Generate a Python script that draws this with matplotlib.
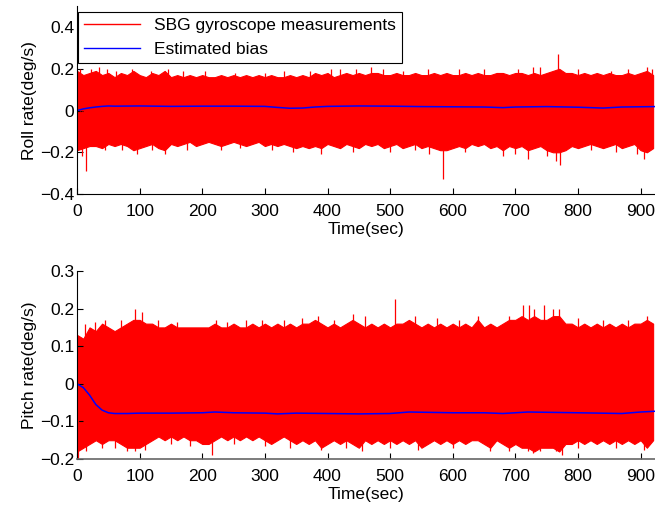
import numpy as np
import matplotlib
matplotlib.use("Agg")
import matplotlib.pyplot as plt
from matplotlib.lines import Line2D

plt.rcParams['font.family'] = ['Liberation Sans', 'DejaVu Sans']

# envelope of the raw gyro signal, read every 10 s
t_env = np.arange(0, 930, 10)

roll_up = [0.19, 0.17, 0.18, 0.19, 0.17, 0.18, 0.16, 0.18, 0.17, 0.19,
           0.17, 0.16, 0.18, 0.17, 0.19, 0.16, 0.17, 0.16, 0.17, 0.16,
           0.17, 0.16, 0.16, 0.17, 0.16, 0.17, 0.16, 0.17, 0.16, 0.17,
           0.16, 0.17, 0.16, 0.16, 0.17, 0.16, 0.17, 0.16, 0.18, 0.17,
           0.18, 0.16, 0.17, 0.18, 0.17, 0.18, 0.17, 0.18, 0.18, 0.17,
           0.17, 0.18, 0.17, 0.17, 0.18, 0.17, 0.17, 0.18, 0.17, 0.18,
           0.17, 0.17, 0.18, 0.17, 0.18, 0.17, 0.17, 0.18, 0.18, 0.17,
           0.18, 0.18, 0.17, 0.18, 0.17, 0.18, 0.19, 0.20, 0.18, 0.18,
           0.17, 0.18, 0.17, 0.18, 0.17, 0.18, 0.17, 0.17, 0.18, 0.17,
           0.18, 0.19, 0.17]
roll_lo = [-0.19, -0.18, -0.17, -0.17, -0.18, -0.16, -0.17, -0.16, -0.17, -0.19,
           -0.18, -0.17, -0.16, -0.18, -0.19, -0.16, -0.17, -0.16, -0.15, -0.17,
           -0.16, -0.15, -0.16, -0.17, -0.16, -0.15, -0.16, -0.17, -0.16, -0.15,
           -0.17, -0.16, -0.17, -0.16, -0.17, -0.18, -0.17, -0.18, -0.17, -0.18,
           -0.16, -0.17, -0.18, -0.16, -0.17, -0.18, -0.16, -0.17, -0.16, -0.18,
           -0.17, -0.16, -0.18, -0.17, -0.16, -0.18, -0.17, -0.18, -0.19, -0.19,
           -0.18, -0.17, -0.18, -0.16, -0.17, -0.16, -0.18, -0.17, -0.19, -0.17,
           -0.18, -0.17, -0.19, -0.18, -0.17, -0.19, -0.20, -0.20, -0.19, -0.17,
           -0.18, -0.17, -0.16, -0.17, -0.18, -0.17, -0.16, -0.18, -0.17, -0.16,
           -0.19, -0.20, -0.18]

pitch_up = [0.13, 0.12, 0.15, 0.14, 0.16, 0.15, 0.14, 0.15, 0.16, 0.17,
            0.17, 0.16, 0.16, 0.15, 0.15, 0.16, 0.15, 0.15, 0.15, 0.15,
            0.15, 0.15, 0.16, 0.15, 0.15, 0.16, 0.15, 0.15, 0.16, 0.15,
            0.16, 0.15, 0.16, 0.15, 0.16, 0.15, 0.16, 0.16, 0.17, 0.16,
            0.15, 0.16, 0.15, 0.16, 0.17, 0.16, 0.15, 0.16, 0.15, 0.16,
            0.15, 0.16, 0.16, 0.17, 0.16, 0.15, 0.16, 0.15, 0.16, 0.15,
            0.16, 0.15, 0.16, 0.15, 0.17, 0.15, 0.16, 0.15, 0.16, 0.17,
            0.17, 0.18, 0.17, 0.18, 0.17, 0.17, 0.18, 0.18, 0.16, 0.16,
            0.15, 0.16, 0.15, 0.16, 0.15, 0.16, 0.15, 0.16, 0.15, 0.16,
            0.16, 0.17, 0.16]
pitch_lo = [-0.18, -0.17, -0.16, -0.15, -0.16, -0.15, -0.15, -0.16, -0.17, -0.17,
            -0.17, -0.16, -0.15, -0.14, -0.15, -0.14, -0.15, -0.14, -0.15, -0.15,
            -0.16, -0.16, -0.15, -0.14, -0.15, -0.14, -0.15, -0.14, -0.15, -0.14,
            -0.15, -0.16, -0.15, -0.14, -0.15, -0.16, -0.15, -0.16, -0.15, -0.17,
            -0.16, -0.15, -0.16, -0.15, -0.16, -0.17, -0.15, -0.16, -0.15, -0.16,
            -0.15, -0.16, -0.15, -0.16, -0.15, -0.17, -0.16, -0.15, -0.16, -0.15,
            -0.16, -0.15, -0.16, -0.15, -0.15, -0.16, -0.17, -0.15, -0.16, -0.17,
            -0.16, -0.17, -0.17, -0.18, -0.17, -0.17, -0.17, -0.18, -0.16, -0.16,
            -0.15, -0.16, -0.15, -0.16, -0.15, -0.16, -0.15, -0.16, -0.15, -0.16,
            -0.15, -0.17, -0.15]

# isolated spikes (time, value)
roll_spike_t = [35, 145, 405, 445, 740, 768, 910, 15, 95, 140, 585, 680, 765, 772, 905,
                5, 22, 48, 62, 88, 118, 170, 205, 252, 300, 330, 372, 420, 470, 488,
                520, 560, 610, 650, 705, 728, 800, 852, 880, 918,
                8, 45, 72, 120, 175, 230, 260, 312, 345, 390, 440, 500, 540, 562,
                620, 700, 720, 750, 820, 860, 895]
roll_spike_v = [0.21, 0.20, 0.20, 0.20, 0.21, 0.27, 0.21,
                -0.29, -0.21, -0.21, -0.33, -0.22, -0.24, -0.26, -0.23,
                0.20, 0.20, 0.20, 0.19, 0.20, 0.19, 0.19, 0.19, 0.18, 0.18, 0.19,
                0.19, 0.20, 0.21, 0.20, 0.19, 0.20, 0.20, 0.20, 0.20, 0.21, 0.20,
                0.19, 0.20, 0.20,
                -0.22, -0.19, -0.19, -0.19, -0.19, -0.19, -0.18, -0.19, -0.20,
                -0.21, -0.20, -0.20, -0.19, -0.21, -0.20, -0.21, -0.23, -0.22,
                -0.19, -0.20, -0.21]
pitch_spike_t = [92, 103, 508, 712, 722, 745, 770, 2, 92, 108, 215, 720, 728, 765,
                 12, 28, 45, 70, 130, 160, 222, 240, 270, 295, 330, 360, 385, 410,
                 440, 460, 540, 575, 610, 640, 690, 730, 760, 800, 840, 880, 910,
                 15, 40, 60, 80, 150, 180, 250, 300, 340, 390, 430, 455, 500, 545,
                 600, 660, 690, 740, 775, 800, 860, 905]
pitch_spike_v = [0.20, 0.19, 0.225, 0.21, 0.21, 0.21, 0.20,
                 -0.20, -0.18, -0.175, -0.19, -0.18, -0.185, -0.18,
                 0.16, 0.165, 0.17, 0.17, 0.17, 0.165, 0.17, 0.165, 0.17, 0.17,
                 0.17, 0.175, 0.18, 0.17, 0.185, 0.18, 0.18, 0.175, 0.17, 0.18,
                 0.18, 0.20, 0.20, 0.175, 0.17, 0.17, 0.18,
                 -0.18, -0.17, -0.17, -0.18, -0.16, -0.165, -0.16, -0.165, -0.17,
                 -0.175, -0.17, -0.18, -0.17, -0.175, -0.17, -0.18, -0.18, -0.18,
                 -0.19, -0.17, -0.17, -0.175]

# estimated bias
roll_bias_t = [0, 10, 20, 30, 40, 50, 60, 100, 150, 200, 250, 300, 320, 340, 360,
               380, 400, 450, 500, 550, 600, 650, 680, 700, 750, 800, 840, 870, 923]
roll_bias_v = [0.0, 0.008, 0.013, 0.017, 0.02, 0.022, 0.021, 0.022, 0.02, 0.021, 0.021,
               0.02, 0.015, 0.011, 0.012, 0.017, 0.02, 0.022, 0.021, 0.019, 0.018,
               0.017, 0.014, 0.017, 0.019, 0.016, 0.012, 0.017, 0.019]
pitch_bias_t = [0, 10, 20, 30, 40, 50, 60, 80, 100, 150, 200, 220, 250, 300, 320,
                350, 400, 450, 500, 530, 600, 650, 680, 720, 800, 870, 900, 923]
pitch_bias_v = [0.0, -0.01, -0.03, -0.055, -0.07, -0.077, -0.079, -0.079, -0.078,
                -0.078, -0.077, -0.075, -0.077, -0.078, -0.08, -0.078, -0.079, -0.08,
                -0.079, -0.075, -0.077, -0.077, -0.079, -0.075, -0.077, -0.079,
                -0.075, -0.073]

fig = plt.figure(figsize=(6.55, 5.09), dpi=100)
ax1 = fig.add_axes([0.1176, 0.6188, 0.8824, 0.369])
ax2 = fig.add_axes([0.1176, 0.0982, 0.8824, 0.3694])


def draw(ax, up, lo, sp_t, sp_v, bt, bv, ylim, yticks, ylabel):
    ax.fill_between(t_env, lo, up, color='red', lw=0.8)
    ax.vlines(sp_t, 0, sp_v, color='red', lw=0.9)
    ax.plot(bt, bv, color='blue', lw=1.1)
    ax.set_xlim(0, 923)
    ax.set_ylim(*ylim)
    ax.set_yticks(yticks)
    ax.set_xticks(range(0, 1000, 100))
    ax.set_yticklabels(['0' if v == 0 else ('%g' % v).replace('-', '\u2212') for v in yticks])
    ax.spines['top'].set_visible(False)
    ax.spines['right'].set_visible(False)
    ax.tick_params(direction='in', length=4.5, labelsize=12.5)
    ax.tick_params(axis='x', pad=7)
    ax.tick_params(axis='y', pad=2)
    ax.set_xlabel('Time(sec)', fontsize=12.5, labelpad=2)
    ax.set_ylabel(ylabel, fontsize=12.5, labelpad=2)


draw(ax1, roll_up, roll_lo, roll_spike_t, roll_spike_v, roll_bias_t, roll_bias_v,
     (-0.4, 0.5), [-0.4, -0.2, 0, 0.2, 0.4], 'Roll rate(deg/s)')
draw(ax2, pitch_up, pitch_lo, pitch_spike_t, pitch_spike_v, pitch_bias_t, pitch_bias_v,
     (-0.2, 0.3), [-0.2, -0.1, 0, 0.1, 0.2, 0.3], 'Pitch rate(deg/s)')
ax2.spines['bottom'].set_color('#666666')
ax2.spines['bottom'].set_linewidth(1.2)

handles = [Line2D([], [], color='red', lw=1), Line2D([], [], color='blue', lw=1)]
leg = ax1.legend(handles, ['SBG gyroscope measurements', 'Estimated bias'],
                 loc='upper left', bbox_to_anchor=(0.002, 0.968), fontsize=12.5,
                 fancybox=False, framealpha=1, edgecolor='black', borderaxespad=0,
                 handlelength=3.2, labelspacing=0.5, borderpad=0.35)
leg.get_frame().set_linewidth(0.8)

fig.savefig('out.png', dpi=100)
